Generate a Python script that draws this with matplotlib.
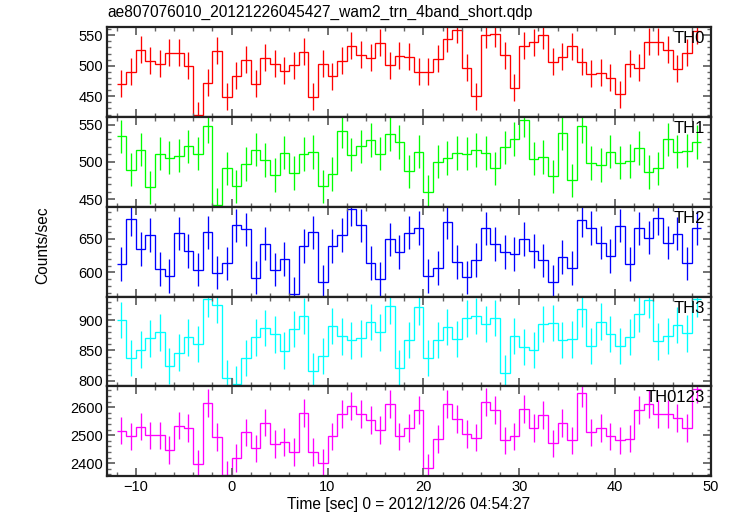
import numpy as np
import matplotlib
matplotlib.use("Agg")
import matplotlib.pyplot as plt
from matplotlib.ticker import MultipleLocator

plt.rcParams['font.family'] = ['Liberation Sans', 'DejaVu Sans']

# bin edges (1 s bins)
t_start = -12
t_stop = 49

th0 = [470.8, 489.9, 526.5, 508.5, 503.0, 521.6, 521.1, 500.3, 419.0, 471.9,
       524.9, 449.5, 483.9, 510.1, 470.8, 512.9, 503.6, 492.1, 500.8, 523.2,
       449.5, 503.0, 482.8, 508.0, 533.1, 518.3, 513.4, 537.4, 500.8, 516.7,
       514.5, 489.9, 489.9, 511.8, 544.5, 559.3, 497.0, 450.0, 550.6, 552.7,
       517.2, 464.2, 532.5, 538.5, 550.0, 506.8, 515.0, 532.0, 506.8, 487.2,
       488.8, 480.6, 453.3, 503.6, 496.5, 539.6, 539.6, 526.5, 495.4, 521.6,
       557.1]
th1 = [534.1, 489.8, 516.4, 465.9, 511.1, 505.8, 508.4, 520.8, 511.1, 547.4,
       442.9, 491.2, 467.3, 496.9, 516.4, 502.7, 482.3, 512.4, 485.4, 510.2,
       513.3, 467.3, 483.6, 541.2, 509.7, 520.8, 529.7, 511.1, 537.6, 527.0,
       487.2, 513.7, 459.7, 500.5, 505.3, 512.0, 511.1, 515.5, 511.5, 491.2,
       519.5, 531.0, 556.2, 504.4, 506.6, 480.5, 539.0, 475.2, 548.2, 498.7,
       495.6, 513.7, 499.1, 500.9, 518.2, 486.3, 491.2, 530.1, 513.7, 515.1,
       527.0]
th2 = [612.4, 679.2, 634.6, 655.9, 605.0, 595.0, 658.4, 632.2, 604.0, 659.9,
       599.5, 613.4, 670.3, 664.3, 592.1, 643.1, 604.0, 619.8, 567.8, 639.6,
       659.9, 586.1, 639.6, 655.9, 694.0, 670.3, 614.3, 590.1, 649.5, 630.2,
       659.4, 666.3, 595.0, 606.9, 674.7, 615.8, 592.6, 618.3, 665.8, 642.1,
       630.2, 627.2, 650.0, 631.7, 617.8, 586.1, 622.8, 606.4, 677.7, 666.3,
       644.5, 624.2, 669.8, 612.4, 665.8, 652.0, 680.7, 644.5, 657.9, 613.4,
       666.3]
th3 = [900.0, 837.2, 851.4, 870.0, 879.8, 824.1, 846.5, 871.6, 861.2, 934.4,
       925.7, 804.4, 794.6, 837.7, 871.6, 886.9, 876.5, 849.8, 885.3, 906.6,
       816.4, 841.0, 890.7, 873.3, 866.7, 870.0, 896.7, 879.8, 924.1, 820.8,
       867.2, 921.9, 837.7, 867.2, 889.1, 869.4, 902.8, 907.1, 893.5, 903.8,
       813.2, 873.8, 855.8, 850.3, 893.5, 895.6, 867.2, 868.3, 919.1, 857.4,
       897.8, 877.1, 857.4, 872.2, 910.4, 933.9, 865.0, 873.8, 892.4, 878.2,
       935.5]
th0123 = [2516.7, 2495.3, 2531.0, 2498.9, 2498.9, 2446.5, 2534.6, 2525.0, 2395.3, 2614.3,
          2492.9, 2358.4, 2416.8, 2509.6, 2452.4, 2545.3, 2467.9, 2475.1, 2440.6, 2581.0,
          2438.2, 2398.9, 2495.3, 2577.4, 2603.6, 2577.4, 2553.6, 2519.1, 2613.1, 2495.3,
          2527.4, 2591.7, 2383.4, 2485.8, 2613.1, 2557.2, 2503.6, 2491.7, 2620.2, 2590.5,
          2481.0, 2495.3, 2595.3, 2525.0, 2572.6, 2470.3, 2542.9, 2481.0, 2651.2, 2509.6,
          2527.4, 2495.3, 2481.0, 2488.1, 2591.7, 2613.1, 2576.2, 2576.2, 2560.7, 2527.4,
          2666.7]

labels = ["TH0", "TH1", "TH2", "TH3", "TH0123"]
errors = [22, 22.5, 25, 30, 50]
series = [th0, th1, th2, th3, th0123]
colors = ["#ff0000", "#00ff00", "#0000ff", "#00ffff", "#ff00ff"]
ylims = [(416, 563), (440, 560), (564, 698), (791, 939), (2354, 2675)]
ymajor = [50, 50, 50, 50, 100]
yminor = [10, 10, 10, 10, 20]

title = "ae807076010_20121226045427_wam2_trn_4band_short.qdp"
xlabel = "Time [sec] 0 = 2012/12/26 04:54:27"
ylabel = "Counts/sec"

fig = plt.figure(figsize=(7.31, 5.16), dpi=100)
gs = fig.add_gridspec(5, 1, left=107/731, right=711/731,
                      top=1-27.3/516, bottom=1-476/516, hspace=0)
edges = np.arange(t_start, t_stop + 1)
centers = 0.5 * (edges[:-1] + edges[1:])
axes = []
for i in range(5):
    ax = fig.add_subplot(gs[i, 0], sharex=axes[0] if axes else None)
    vals = np.array(series[i])
    ax.stairs(vals, edges, baseline=None, color=colors[i], lw=0.95)
    ax.vlines(centers, vals - errors[i], vals + errors[i], color=colors[i], lw=0.95)
    ax.set_ylim(*ylims[i])
    ax.set_xlim(-13, 50)
    ax.yaxis.set_major_locator(MultipleLocator(ymajor[i]))
    ax.yaxis.set_minor_locator(MultipleLocator(yminor[i]))
    ax.xaxis.set_major_locator(MultipleLocator(10))
    ax.xaxis.set_minor_locator(MultipleLocator(2))
    ax.tick_params(which='both', direction='in', top=True, right=True,
                   labelsize=10.5, color='#666666', pad=3)
    ax.tick_params(which='major', length=6, width=1.3)
    ax.tick_params(which='minor', length=3, width=1.0)
    for s in ax.spines.values():
        s.set_linewidth(1.6)
        s.set_color('#222222')
    ax.text(0.99, 0.955, labels[i], transform=ax.transAxes, ha='right', va='top',
            fontsize=12)
    if i < 4:
        ax.tick_params(labelbottom=False)
    axes.append(ax)

axes[-1].set_xlabel(xlabel, fontsize=11.2, labelpad=2)
fig.text(0.058, 1 - 245/516, ylabel, rotation=90, ha='center', va='center', fontsize=11.2)
fig.text(107/731, 1 - 12/516, title, ha='left', va='center', fontsize=11.2)

fig.savefig("out.png", dpi=100)
